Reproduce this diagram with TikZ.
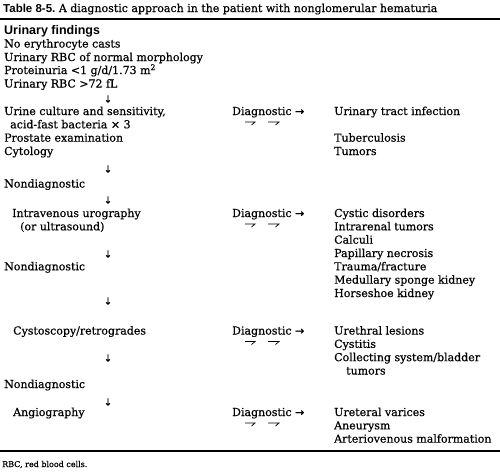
\documentclass[tikz,border=0pt]{standalone}
\usepackage{fontspec}
\setmainfont[FakeBold=0.6]{DejaVu Serif}
\newfontfamily\hel{Liberation Sans}
\newfontfamily\arw[FakeBold=0.6]{DejaVu Sans}
\begin{document}
\begin{tikzpicture}[x=1pt,y=-1pt,
 txt/.style={anchor=base west,inner sep=0pt,font=\fontsize{11}{13}\selectfont},
 hd/.style={anchor=base west,inner sep=0pt,font=\hel\bfseries\fontsize{12.5}{14}\selectfont},
 dn/.style={inner sep=0pt,font=\arw\fontsize{10}{12}\selectfont},
 foot/.style={anchor=base west,inner sep=0pt,font=\fontsize{8}{10}\selectfont},
 rl/.style={line width=1.6pt},
 hp/.style={line width=0.7pt}]
\useasboundingbox (0,0) rectangle (500,475);
% title
\node[txt] (title) at (3,12) {{\hel\bfseries\fontsize{11.5}{13}\selectfont Table 8-5.}\ A diagnostic approach in the patient with nonglomerular hematuria};
\coordinate (r1a) at (0,19); \coordinate (r1b) at (500,19);
\draw[rl] (r1a) -- (r1b);
% findings
\node[hd] (uf) at (4,34.5) {Urinary findings};
\node[txt] (f1) at (4,47.5) {No erythrocyte casts};
\node[txt] (f2) at (4,61) {Urinary RBC of normal morphology};
\node[txt] (f3) at (4,74) {Proteinuria <1 g/d/1.73 m\textsuperscript{2}};
\node[txt] (f4) at (4,87.5) {Urinary RBC >72 fL};
\node[dn] (a1) at (108,99) {↓};
% step 1
\node[txt] (s1a) at (4,115) {Urine culture and sensitivity,};
\node[txt] (s1b) at (10,128.3) {acid-fast bacteria × 3};
\node[txt] (s1c) at (4,141.6) {Prostate examination};
\node[txt] (s1d) at (4,155) {Cytology};
\node[txt] (d1) at (232,115) {Diagnostic {\arw →}};
\node[txt] (r11) at (334,115) {Urinary tract infection};
\node[txt] (r12) at (334,141.6) {Tuberculosis};
\node[txt] (r13) at (334,155) {Tumors};
\node[dn] (a2) at (108,169) {↓};
\node[txt] (n1) at (4,187.5) {Nondiagnostic};
\node[dn] (a3) at (108,200) {↓};
% step 2
\node[txt] (s2a) at (12,217) {Intravenous urography};
\node[txt] (s2b) at (20,230.3) {(or ultrasound)};
\node[txt] (d2) at (232,217) {Diagnostic {\arw →}};
\node[txt] (r21) at (334,217) {Cystic disorders};
\node[txt] (r22) at (334,230.3) {Intrarenal tumors};
\node[txt] (r23) at (334,243.6) {Calculi};
\node[txt] (r24) at (334,257) {Papillary necrosis};
\node[txt] (r25) at (334,270.3) {Trauma/fracture};
\node[txt] (r26) at (334,283.6) {Medullary sponge kidney};
\node[txt] (r27) at (334,297) {Horseshoe kidney};
\node[dn] (a4) at (108,254) {↓};
\node[txt] (n2) at (4,270.3) {Nondiagnostic};
\node[dn] (a5) at (108,301) {↓};
% step 3
\node[txt] (s3) at (13,334.5) {Cystoscopy/retrogrades};
\node[txt] (d3) at (232,334.5) {Diagnostic {\arw →}};
\node[txt] (r31) at (334,334.5) {Urethral lesions};
\node[txt] (r32) at (334,347.8) {Cystitis};
\node[txt] (r33) at (334,361.1) {Collecting system/bladder};
\node[txt] (r34) at (346,374.5) {tumors};
\node[dn] (a6) at (108,358) {↓};
\node[txt] (n3) at (4,388) {Nondiagnostic};
\node[dn] (a7) at (108,402) {↓};
% step 4
\node[txt] (s4) at (13,416) {Angiography};
\node[txt] (d4) at (232,416) {Diagnostic {\arw →}};
\node[txt] (r41) at (334,416) {Ureteral varices};
\node[txt] (r42) at (334,429.3) {Aneurysm};
\node[txt] (r43) at (334,442.6) {Arteriovenous malformation};
% harpoons under Diagnostic
\foreach \yy in {122,224,341.5,423}{
  \draw[hp] (245,\yy) -- (255,\yy) -- (251.5,\yy+3);
  \draw[hp] (268,\yy) -- (279,\yy) -- (275.5,\yy+3);
}
\coordinate (r2a) at (0,451); \coordinate (r2b) at (500,451);
\draw[rl] (r2a) -- (r2b);
\node[foot] (fn) at (2,467) {RBC, red blood cells.};
\end{tikzpicture}
\end{document}
